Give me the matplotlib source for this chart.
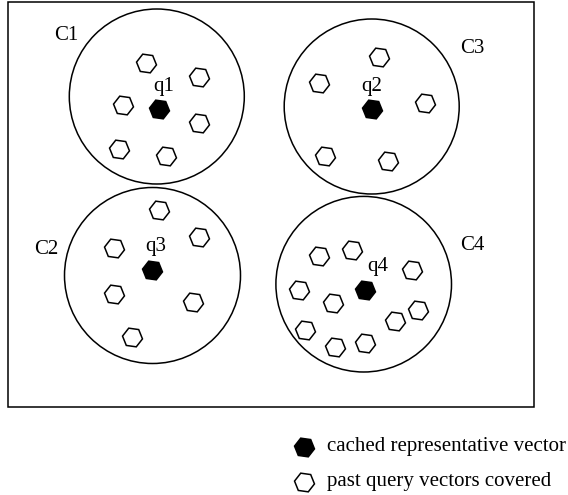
import matplotlib
matplotlib.use("Agg")
import matplotlib.pyplot as plt
from matplotlib.patches import Circle, Rectangle

plt.rcParams['font.family'] = ['Liberation Serif', 'DejaVu Serif']

# Cluster data (pixel-like coordinates of the diagram)
cluster_names = ["C1", "C3", "C2", "C4"]
cluster_label_xy = [(66.7, 35.7), (472.0, 48.3), (46.7, 250.0), (472.7, 245.0)]
cluster_centers = [(156.8, 96.5), (371.7, 106.5), (152.5, 275.5), (363.7, 284.2)]
cluster_radius = [87.5, 87.5, 88.0, 87.8]

rep_names = ["q1", "q2", "q3", "q4"]
rep_x = [159.0, 372.0, 152.0, 365.3]
rep_y = [109.3, 109.3, 270.0, 290.0]
rep_label_xy = [(164.0, 86.7), (371.7, 86.7), (156.0, 246.7), (377.3, 266.7)]

past_c1_x = [145.7, 198.7, 123.3, 198.7, 119.0, 165.7]
past_c1_y = [63.3, 76.7, 105.0, 123.3, 149.3, 156.0]
past_c3_x = [378.7, 318.7, 425.3, 325.3, 387.7]
past_c3_y = [56.7, 83.3, 103.3, 156.0, 160.7]
past_c2_x = [159.3, 198.7, 114.3, 114.3, 192.7, 132.3]
past_c2_y = [210.0, 236.7, 247.7, 294.3, 302.3, 336.7]
past_c4_x = [319.3, 352.0, 412.0, 298.7, 332.7, 418.3, 395.0, 305.3, 335.0, 365.3]
past_c4_y = [255.7, 250.0, 270.0, 290.0, 303.3, 310.0, 321.0, 330.0, 347.3, 343.3]

legend_labels = ["cached representative vector", "past query vectors covered"]

fig = plt.figure(figsize=(5.68, 4.95), dpi=100)
ax = fig.add_axes([0, 0, 1, 1])
ax.set_xlim(0, 568)
ax.set_ylim(495, 0)
ax.axis('off')

ax.add_patch(Rectangle((8, 2), 526.3, 405.3, fill=False, edgecolor='black', lw=1.1))

for (cx, cy), r in zip(cluster_centers, cluster_radius):
    ax.add_patch(Circle((cx, cy), r, fill=False, edgecolor='black', lw=1.1))

fs = 15
for name, (lx, ly) in zip(cluster_names, cluster_label_xy):
    ax.text(lx, ly, name, ha='center', va='center', fontsize=fs)

hex_marker = (6, 0, 22)
ms = 14.5

for px, py in [(past_c1_x, past_c1_y), (past_c3_x, past_c3_y),
               (past_c2_x, past_c2_y), (past_c4_x, past_c4_y)]:
    ax.plot(px, py, linestyle='none', marker=hex_marker, markersize=ms,
            markerfacecolor='white', markeredgecolor='black', markeredgewidth=1.1)

ax.plot(rep_x, rep_y, linestyle='none', marker=hex_marker, markersize=ms,
        markerfacecolor='black', markeredgecolor='black', markeredgewidth=1.1)

for name, (lx, ly) in zip(rep_names, rep_label_xy):
    ax.text(lx, ly, name, ha='center', va='center', fontsize=fs)

# legend
leg_y = [446.7, 481.7]
leg_face = ['black', 'white']
for lab, y, fc in zip(legend_labels, leg_y, leg_face):
    ax.plot([304], [y], linestyle='none', marker=hex_marker, markersize=ms,
            markerfacecolor=fc, markeredgecolor='black', markeredgewidth=1.1)
    ax.text(326.7, y, lab, ha='left', va='center', fontsize=fs)

fig.savefig("out.png", dpi=100)
